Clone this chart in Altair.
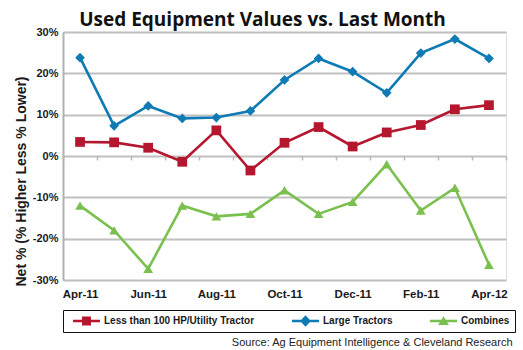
import altair as alt
import pandas as pd

months = ["Apr-11", "May-11", "Jun-11", "Jul-11", "Aug-11", "Sep-11", "Oct-11",
          "Nov-11", "Dec-11", "Jan-12", "Feb-11", "Mar-12", "Apr-12"]
shown_labels = ["Apr-11", "Jun-11", "Aug-11", "Oct-11", "Dec-11", "Feb-11", "Apr-12"]
series_names = ["Less than 100 HP/Utility Tractor", "Large Tractors", "Combines"]
utility = [3.4, 3.3, 2.0, -1.4, 6.2, -3.5, 3.2, 7.0, 2.3, 5.7, 7.5, 11.3, 12.3]
large = [23.8, 7.3, 12.1, 9.1, 9.3, 10.9, 18.4, 23.6, 20.4, 15.3, 24.9, 28.3, 23.6]
combines = [-12.0, -18.0, -27.3, -12.0, -14.6, -14.0, -8.3, -14.0, -11.1, -2.0, -13.2, -7.7, -26.3]
colors = ["#B5172F", "#0F7BB5", "#7AC04E"]
shapes = ["square", "diamond", "triangle-up"]
# legend glyphs: a short line segment with the series marker on it (unit coords)
legend_glyphs = [
    "M-1,-0.1H1V0.1H-1Z M-0.33,-0.33H0.33V0.33H-0.33Z",
    "M-1,-0.1H1V0.1H-1Z M0,-0.42L0.4,0L0,0.42L-0.4,0Z",
    "M-1,-0.1H1V0.1H-1Z M0,-0.36L0.4,0.3L-0.4,0.3Z",
]
y_ticks = [-30, -20, -10, 0, 10, 20, 30]

rows = []
for name, vals in zip(series_names, [utility, large, combines]):
    for m, v in zip(months, vals):
        rows.append({"month": m, "series": name, "key": name, "value": v})
df = pd.DataFrame(rows)

label_list = "[" + ",".join("'%s'" % s for s in shown_labels) + "]"
LABEL_FONT = "Liberation Sans"

x_enc = alt.X(
    "month:O", sort=months,
    scale=alt.Scale(type="band", paddingInner=0, paddingOuter=0),
    bandPosition=0.5,
    axis=alt.Axis(
        orient="bottom", offset=-124, domain=False, grid=False,
        ticks=True, tickBand="extent", tickSize=4, tickColor="#B8B8B8", tickWidth=1.5,
        labelPadding=128, labelAngle=0, labelOverlap=False,
        labelExpr="indexof(%s, datum.value) >= 0 ? datum.value : ''" % label_list,
        labelFont=LABEL_FONT, labelFontSize=11.5, labelFontWeight="bold", labelColor="#1a1a1a",
        title="Source: Ag Equipment Intelligence & Cleveland Research",
        titleX=449, titleY=189, titleAlign="right", titleBaseline="alphabetic",
        titleFont=LABEL_FONT, titleFontSize=11, titleFontWeight="normal", titleColor="#222222",
    ),
)
y_enc = alt.Y(
    "value:Q",
    scale=alt.Scale(domain=[-30, 30], nice=False),
    axis=alt.Axis(
        values=y_ticks, labelExpr="datum.value + '%'",
        domain=True, domainColor="#B0B0B0", domainWidth=2,
        ticks=False, grid=True, gridColor="#C0C0C0", gridWidth=2,
        labelPadding=5, labelFont=LABEL_FONT, labelFontSize=11, labelFontWeight="bold",
        labelColor="#1a1a1a",
        title="Net % (% Higher Less % Lower)", titleFont=LABEL_FONT, titleFontSize=14,
        titleFontWeight="bold", titleColor="#1a1a1a",
        titleX=-42, titleY=149, titleBaseline="middle", titleAngle=270,
    ),
)

color_scale = alt.Scale(domain=series_names, range=colors)

lines = alt.Chart(df).mark_line(strokeWidth=2.6).encode(
    x=x_enc, y=y_enc,
    color=alt.Color("series:N", sort=series_names, scale=color_scale, legend=None),
)

points = alt.Chart(df).mark_point(filled=True, opacity=1, strokeWidth=0, size=95).encode(
    x=x_enc, y=y_enc,
    color=alt.Color("series:N", sort=series_names, scale=color_scale, legend=None),
    shape=alt.Shape("series:N", sort=series_names,
                    scale=alt.Scale(domain=series_names, range=shapes), legend=None),
)

leg = alt.Legend(
    orient="none", legendX=0, legendY=278, direction="horizontal", title=None,
    labelFont=LABEL_FONT, labelFontSize=10, labelFontWeight="bold", labelColor="#1a1a1a",
    padding=5, columnPadding=32, clipHeight=12, labelLimit=400,
    symbolSize=729, symbolStrokeWidth=0, symbolOpacity=1, symbolOffset=5, labelOffset=4,
    strokeColor="#111111",
)
legend_layer = alt.Chart(df).mark_point(filled=True, opacity=0, size=1).encode(
    x=x_enc, y=y_enc,
    color=alt.Color("key:N", sort=series_names,
                    scale=alt.Scale(domain=series_names, range=colors), legend=leg),
    shape=alt.Shape("key:N", sort=series_names,
                    scale=alt.Scale(domain=series_names, range=legend_glyphs), legend=leg),
)

chart = alt.layer(lines, points, legend_layer).resolve_scale(
    color="independent", shape="independent"
).properties(
    width=443, height=248,
    autosize=alt.AutoSizeParams(type="none"),
    padding={"left": 63, "top": 32, "right": 17, "bottom": 70},
    title=alt.TitleParams(
        "Used Equipment Values vs. Last Month", font="Open Sans", fontSize=19,
        fontWeight="bold", color="#111111", anchor="middle", dx=-22, dy=14, offset=10,
        frame="group",
    ),
).configure_view(stroke=None).configure(background="white")

chart.save("out.html", embed_options={"renderer": "svg", "actions": False})
